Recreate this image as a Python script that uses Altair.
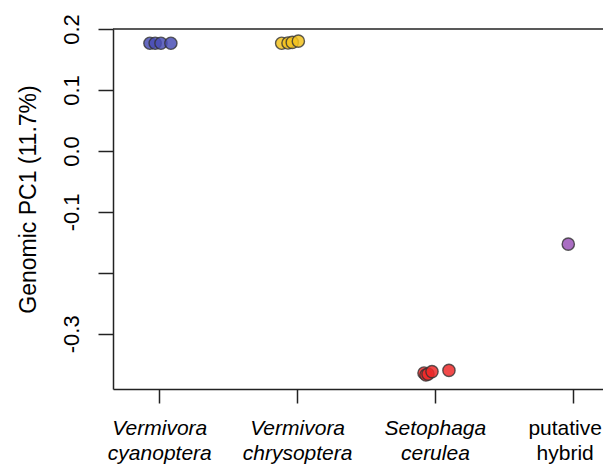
import altair as alt
import pandas as pd

# ---- data ----
categories = [1, 2, 3, 4]
cat_labels = [["Vermivora", "cyanoptera"], ["Vermivora", "chrysoptera"],
              ["Setophaga", "cerulea"], ["putative", "hybrid"]]
cat_italic = [True, True, True, False]

y_ticks = [-0.3, -0.2, -0.1, 0.0, 0.1, 0.2]
y_tick_labels = ["-0.3", "", "-0.1", "0.0", "0.1", "0.2"]

blue_x = [0.932, 0.970, 1.012, 1.084]
blue_y = [0.1766, 0.1766, 0.1766, 0.1766]
yellow_x = [1.888, 1.934, 1.965, 2.009]
yellow_y = [0.1766, 0.1770, 0.1780, 0.1800]
red_x = [2.921, 2.935, 2.950, 2.979, 3.102]
red_y = [-0.3643, -0.3676, -0.3660, -0.3620, -0.3600]
purple_x = [3.968]
purple_y = [-0.1529]

groups = ["cyanoptera", "chrysoptera", "cerulea", "hybrid"]
group_colors = ["#4a4fb5", "#f2c21e", "#ee2a2a", "#9b55b9"]

rows = []
for g, xs, ys in zip(groups, [blue_x, yellow_x, red_x, purple_x],
                     [blue_y, yellow_y, red_y, purple_y]):
    for xv, yv in zip(xs, ys):
        rows.append({"group": g, "x": xv, "y": yv})
df = pd.DataFrame(rows)

W, H = 490, 360
FONT = "Liberation Sans"

# label expressions built from the lists
x_expr = ""
for c, lab in zip(categories, cat_labels):
    x_expr += f"datum.value == {c} ? ['{lab[0]}', '{lab[1]}'] : "
x_expr += "''"
normal_test = " || ".join(f"datum.value == {c}" for c, it in zip(categories, cat_italic) if not it)
last_test = f"datum.value == {categories[-1]}"

y_expr = ""
for t, lab in zip(y_ticks, y_tick_labels):
    y_expr += f"abs(datum.value - ({t})) < 0.01 ? '{lab}' : "
y_expr += "''"

points = alt.Chart(df).mark_circle(
    size=150, stroke="#333333", strokeWidth=1.4, fillOpacity=0.85, strokeOpacity=0.8
).encode(
    x=alt.X("x:Q", scale=alt.Scale(domain=[0.664, 4.220], nice=False, zero=False),
            axis=alt.Axis(values=categories, labelExpr=x_expr, title=None, grid=False,
                          tickSize=14, tickColor="#222222", tickWidth=1.5,
                          domainColor="#222222", domainWidth=1.5,
                          labelFont=FONT, labelFontSize=21, labelLineHeight=25,
                          labelColor="#000000", labelPadding=14, labelAlign="center",
                          labelBaseline="top", labelFlush=False, labelOverlap=False,
                          labelBound=False,
                          labelOffset={"condition": {"test": last_test, "value": -8},
                                       "value": 0},
                          labelFontStyle={"condition": {"test": normal_test, "value": "normal"},
                                          "value": "italic"})),
    y=alt.Y("y:Q", scale=alt.Scale(domain=[-0.3905, 0.2], nice=False, zero=False),
            axis=alt.Axis(values=y_ticks, labelExpr=y_expr, title="Genomic PC1 (11.7%)",
                          grid=False, tickSize=15, tickColor="#222222", tickWidth=1.5,
                          domainColor="#222222", domainWidth=1.5,
                          labelFont=FONT, labelFontSize=22, labelColor="#000000",
                          labelAngle=270, labelAlign="center", labelBaseline="alphabetic",
                          labelPadding=20, labelFlush=False, labelOverlap=False,
                          labelBound=False,
                          titleFont=FONT, titleFontSize=23, titleFontWeight="normal",
                          titleColor="#000000", titleAngle=270, titleAlign="center",
                          titleBaseline="alphabetic", titleX=-78, titleY=170)),
    color=alt.Color("group:N", scale=alt.Scale(domain=groups, range=group_colors), legend=None),
)

top_line = alt.Chart(pd.DataFrame({"a": [0]})).mark_rule(
    color="#222222", strokeWidth=1.5
).encode(x=alt.value(0), x2=alt.value(W), y=alt.value(0))

chart = alt.layer(points, top_line).properties(
    width=W, height=H,
    padding={"left": 105, "top": 21, "right": 0, "bottom": 78},
    autosize=alt.AutoSizeParams(type="none"),
).configure_view(strokeWidth=0)

chart.save("out.html", embed_options={"renderer": "svg", "actions": False})
